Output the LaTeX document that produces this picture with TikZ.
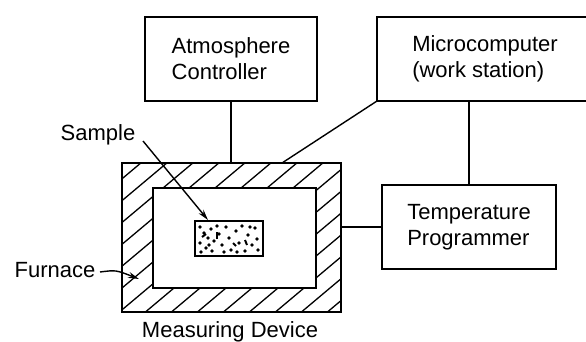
\documentclass[tikz,border=0pt]{standalone}
\usepackage{fontspec}
\setmainfont{Liberation Sans}
\usetikzlibrary{arrows.meta,calc}
\begin{document}
\begin{tikzpicture}[x=1pt,y=-1pt,
  ln/.style={line width=1.4pt},
  box/.style={draw,line width=1.4pt,inner sep=0pt,outer sep=0pt,align=left,
    font=\fontsize{22}{26}\selectfont},
  plain/.style={draw,line width=1.4pt,inner sep=0pt,outer sep=0pt},
  lbl/.style={inner sep=0pt,font=\fontsize{22}{26}\selectfont},
  hatch/.style={line width=1.3pt},
  dot/.style={fill=black}]
\useasboundingbox (0,0) rectangle (586,342);
\clip (0,0) rectangle (586,342);

% boxes
\node[box,minimum width=172pt,minimum height=84pt] (atm) at (231,59) {Atmosphere\\Controller};
\node[box,minimum width=216pt,minimum height=84pt] (mc) at (485,59) {Microcomputer\\(work station)};
\node[box,minimum width=174pt,minimum height=84pt] (tp) at (469,227) {Temperature\\Programmer};

% furnace
\node[plain,minimum width=219pt,minimum height=149pt] (fur) at (231.5,237.5) {};
\node[plain,minimum width=163pt,minimum height=100pt] (inn) at (234.5,238) {};
\begin{scope}[even odd rule]
  \clip (fur.north west) rectangle (fur.south east)
        (inn.north west) rectangle (inn.south east);
  \foreach \i in {0,...,17}
    \draw[hatch] ({-84+\i*26},330) -- ++(200,-168);
\end{scope}
\node[plain,minimum width=219pt,minimum height=149pt] at (fur) {};
\node[plain,minimum width=163pt,minimum height=100pt] at (inn) {};

% sample
\node[plain,minimum width=68pt,minimum height=35pt] (sam) at (229,238.5) {};
\foreach \p in {(200,227),(204,233),(208,238),(200,243),(206,248),(211,229),
  (214,241),(212,251),(219,234),(222,245),(226,227),(229,238),(231,250),
  (236,231),(239,243),(242,226),(245,251),(248,235),(252,245),(255,228),
  (257,239),(258,250),(217,226),(224,252),(209,245),(237,252),(250,227),(201,252)}
  \fill[dot] \p circle (1.9pt);
\draw[line width=2pt] (217,232) -- (217,239);
\draw[line width=2pt] (245,240) -- (247,245);
\draw[line width=2pt] (202,237) -- (206,234);
\draw[line width=2pt] (233,243) -- (236,246);

% labels
\node[lbl] (sl) at (98,135) {Sample};
\node[lbl] (fl) at (55,270) {Furnace};
\node[lbl,anchor=base] (md) at (230,337) {Measuring Device};

% connectors
\coordinate (fc) at (282,163);
\coordinate (sa) at (143,141);
\coordinate (st) at (208,220);
\coordinate (fa) at (100,272);
\coordinate (ft) at (139,279);
\draw[ln] (atm.south) -- (atm.south |- fur.north);
\draw[ln] (mc.south west) -- (fc);
\draw[ln] (tp.north) -- (tp.north |- mc.south);
\draw[ln] (tp.west) -- (tp.west -| fur.east);
\draw[ln,-{Stealth[length=11pt,width=6pt]}] (sa) -- (st);
\draw[ln,-{Stealth[length=11pt,width=6pt]}] (fa) .. controls (116,270) .. (ft);
\end{tikzpicture}
\end{document}
